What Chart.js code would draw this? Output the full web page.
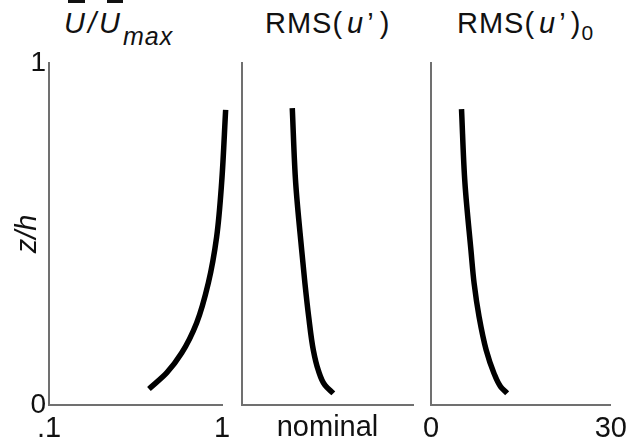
<!DOCTYPE html>
<html lang="en">
<head>
  <meta charset="UTF-8" />
  <title>Profiles of mean velocity and RMS(u')</title>
  <script src="https://cdn.jsdelivr.net/npm/chart.js"></script>
  <style>
    body { margin: 0; width: 634px; height: 446px; position: relative; overflow: hidden; background: #fff;
           font-family: "Liberation Sans", Arial, sans-serif; color: #111; }
    canvas { position: absolute; top: 40px; }
    .title { position: absolute; top: 9px; font-size: 29px; line-height: 29px; white-space: nowrap; }
    .bar { position: absolute; top: 0; height: 3px; background: #111; }
  </style>
</head>
<body>
  <div class="bar" style="left:68px; width:17px"></div>
  <div class="bar" style="left:107px; width:16px"></div>
  <div class="title" style="left:64px; font-style:italic; letter-spacing:3px">U/U<span style="font-size:25px; vertical-align:-12px; letter-spacing:1px">max</span></div>
  <div class="title" style="left:265px; letter-spacing:1px">RMS(<i style="margin:0 3px 0 4px">u</i>’<span style="margin-left:5px">)</span></div>
  <div class="title" style="left:457px; letter-spacing:1px">RMS(<i style="margin:0 3px 0 4px">u</i>’<span style="margin-left:4px">)</span><span style="font-size:21px; vertical-align:-7px">0</span></div>

  <canvas id="c1" width="245" height="406" style="left:0"></canvas>
  <canvas id="c2" width="230" height="406" style="left:200px"></canvas>
  <canvas id="c3" width="234" height="406" style="left:400px"></canvas>

  <script>
    // heights (z/h) and values
    const zMean = [0.047, 0.094, 0.152, 0.240, 0.357, 0.491, 0.649, 0.863];
    const meanVel = [0.62, 0.712, 0.790, 0.868, 0.929, 0.972, 0.998, 1.019];

    const zNominal = [0.034, 0.058, 0.102, 0.161, 0.258, 0.356, 0.453, 0.649, 0.868];
    const rmsNominal = [0.534, 0.485, 0.446, 0.417, 0.390, 0.368, 0.349, 0.314, 0.294];

    const zZero = [0.034, 0.054, 0.093, 0.161, 0.258, 0.356, 0.453, 0.649, 0.865];
    const rmsZero = [12.69, 11.6, 10.5, 9.2, 8.02, 7.19, 6.66, 5.66, 5.09];

    const yTicks = [0, 1];
    const yTickLabels = ['0', '1'];
    const meanTicks = [0.1, 1];
    const meanTickLabels = ['.1', '1'];
    const zeroTicks = [0, 30];
    const zeroTickLabels = ['0', '30'];

    const axisLine = { display: true, color: '#707070', width: 2 };
    const font = { family: '"Liberation Sans", Arial, sans-serif', size: 29 };

    function profileChart(id, xs, zs, x, yAxisWidth, rightPad, showY) {
      return new Chart(document.getElementById(id), {
        type: 'line',
        data: {
          datasets: [{
            data: zs.map((z, i) => ({ x: xs[i], y: z })),
            borderColor: '#000',
            borderWidth: 5.5,
            borderCapStyle: 'butt',
            pointRadius: 0,
            cubicInterpolationMode: 'monotone',
            clip: false
          }]
        },
        options: {
          indexAxis: 'y',
          responsive: false,
          animation: false,
          events: [],
          layout: { padding: { top: 23, right: rightPad, left: 0, bottom: 0 } },
          plugins: { legend: { display: false }, tooltip: { enabled: false } },
          scales: {
            x: Object.assign({
              type: 'linear',
              grid: { display: false, drawTicks: false },
              border: axisLine,
              afterFit: s => { s.height = 41; }
            }, x),
            y: {
              type: 'linear',
              min: 0,
              max: 1,
              grid: { display: false, drawTicks: false },
              border: axisLine,
              afterBuildTicks: s => { s.ticks = yTicks.map(v => ({ value: v })); },
              ticks: {
                display: showY,
                padding: 3,
                color: '#111',
                font: { family: font.family, size: 28 },
                callback: (v, i) => yTickLabels[i]
              },
              title: {
                display: showY,
                text: 'z/h',
                color: '#111',
                font: { family: font.family, size: 29, style: 'italic' },
                padding: { top: 11, bottom: 0 }
              },
              afterFit: s => { s.width = yAxisWidth; }
            }
          }
        }
      });
    }

    function tickAxis(min, max, ticks, labels) {
      return {
        min: min,
        max: max,
        afterBuildTicks: s => { s.ticks = ticks.map(v => ({ value: v })); },
        ticks: {
          padding: 7,
          color: '#111',
          font: font,
          autoSkip: false,
          maxRotation: 0,
          callback: (v, i) => labels[i]
        }
      };
    }

    profileChart('c1', meanVel, zMean, tickAxis(0.1, 1, meanTicks, meanTickLabels), 49, 23, true);

    profileChart('c2', rmsNominal, zNominal, {
      min: 0,
      max: 1,
      ticks: { display: false },
      title: { display: true, text: 'nominal', color: '#111', font: font, padding: { top: 0, bottom: 1 } }
    }, 42, 17, false);

    profileChart('c3', rmsZero, zZero, tickAxis(0, 30, zeroTicks, zeroTickLabels), 31, 21, false);
  </script>
</body>
</html>
